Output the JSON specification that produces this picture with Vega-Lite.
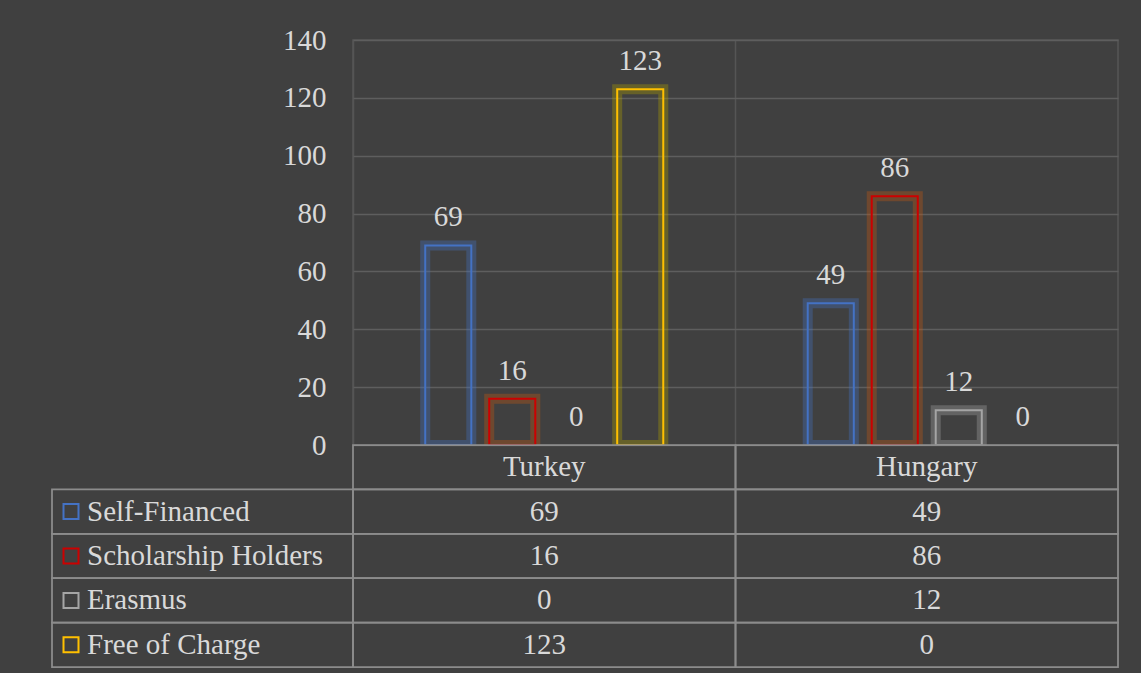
{
  "$schema": "https://vega.github.io/schema/vega-lite/v6.json",
  "background": "#404040",
  "padding": {"left": 51, "top": 25, "right": 22, "bottom": 5},
  "config": {"view": {"stroke": null}, "font": "Liberation Serif"},
  "datasets": {
    "counts": [
      {"country": "Turkey", "series": "Self-Financed", "value": 69},
      {"country": "Turkey", "series": "Scholarship Holders", "value": 16},
      {"country": "Turkey", "series": "Erasmus", "value": 0},
      {"country": "Turkey", "series": "Free of Charge", "value": 123},
      {"country": "Hungary", "series": "Self-Financed", "value": 49},
      {"country": "Hungary", "series": "Scholarship Holders", "value": 86},
      {"country": "Hungary", "series": "Erasmus", "value": 12},
      {"country": "Hungary", "series": "Free of Charge", "value": 0}
    ],
    "header": [
      {"country": "Turkey", "series": "_header"},
      {"country": "Hungary", "series": "_header"}
    ]
  },
  "columns": 2,
  "spacing": 0,
  "bounds": "flush",
  "concat": [
    {
      "width": 301,
      "height": 405,
      "data": {"values": [{"a": 1}]},
      "mark": {"type": "text", "text": ""},
      "encoding": {}
    },
    {
      "width": 765,
      "height": 405,
      "data": {"name": "counts"},
      "view": {"stroke": "#555555", "strokeWidth": 1.5},
      "encoding": {
        "x": {
          "field": "country", "type": "nominal", "sort": ["Turkey", "Hungary"],
          "scale": {"paddingInner": 0.0431, "paddingOuter": 0.02155},
          "axis": {"title": null, "labels": false, "ticks": false, "domain": false, "grid": true,
                   "gridColor": "#555555", "gridWidth": 1.5, "bandPosition": -0.02252}
        },
        "xOffset": {
          "field": "series", "type": "nominal",
          "sort": ["Self-Financed", "Scholarship Holders", "Erasmus", "Free of Charge"],
          "scale": {"paddingInner": 0.28, "paddingOuter": 1}
        },
        "y": {
          "field": "value", "type": "quantitative",
          "scale": {"domain": [0, 140]},
          "axis": {
            "title": null, "values": [0, 20, 40, 60, 80, 100, 120, 140],
            "labelFontSize": 29, "labelColor": "#d9d9d9", "labelPadding": 27,
            "labelFont": "Liberation Serif",
            "ticks": false, "domain": false, "grid": true,
            "gridColor": "#5e5e5e", "gridWidth": 1.5,
            "encode": {"grid": {"update": {"strokeOpacity": {"signal": "0.2 + 0.8 * datum.value / 140"}}}}
          }
        }
      },
      "layer": [
        {
          "transform": [{"filter": "datum.value > 0"}],
          "mark": {"type": "bar", "fillOpacity": 0, "strokeWidth": 10, "strokeOpacity": 0.35, "clip": true},
          "encoding": {
            "stroke": {
              "field": "series", "type": "nominal",
              "scale": {"domain": ["Self-Financed", "Scholarship Holders", "Erasmus", "Free of Charge"],
                        "range": ["#4472c4", "#c55a11", "#a5a5a5", "#b0a000"]},
              "legend": null
            }
          }
        },
        {
          "transform": [{"filter": "datum.value > 0"}],
          "mark": {"type": "bar", "fillOpacity": 0, "strokeWidth": 2, "clip": true},
          "encoding": {
            "stroke": {
              "field": "series", "type": "nominal",
              "scale": {"domain": ["Self-Financed", "Scholarship Holders", "Erasmus", "Free of Charge"],
                        "range": ["#4472c4", "#cc0000", "#a5a5a5", "#ffc000"]},
              "legend": null
            }
          }
        },
        {
          "mark": {"type": "text", "fontSize": 29, "color": "#d9d9d9", "baseline": "middle", "dy": -28},
          "encoding": {"text": {"field": "value", "type": "quantitative"}}
        }
      ],
      "resolve": {"scale": {"stroke": "independent"}}
    },
    {
      "width": 301,
      "height": 222,
      "data": {"name": "counts"},
      "transform": [{"filter": "datum.country === 'Turkey'"}],
      "encoding": {
        "y": {
          "field": "series", "type": "nominal",
          "scale": {"domain": ["_header", "Self-Financed", "Scholarship Holders", "Erasmus", "Free of Charge"],
                    "paddingInner": 0, "paddingOuter": 0},
          "axis": null
        }
      },
      "layer": [
        {"mark": {"type": "rect", "fillOpacity": 0, "stroke": "#8c8c8c", "strokeWidth": 1.75}},
        {
          "mark": {"type": "point", "shape": "square", "size": 225, "filled": false, "strokeWidth": 2,
                   "opacity": 1, "xOffset": -131.5},
          "encoding": {
            "color": {
              "field": "series", "type": "nominal",
              "scale": {"domain": ["Self-Financed", "Scholarship Holders", "Erasmus", "Free of Charge"],
                        "range": ["#4472c4", "#cc0000", "#a5a5a5", "#ffc000"]},
              "legend": null
            }
          }
        },
        {
          "mark": {"type": "text", "align": "left", "dx": -115.5, "fontSize": 29, "color": "#d9d9d9", "baseline": "middle"},
          "encoding": {"text": {"field": "series", "type": "nominal"}}
        }
      ]
    },
    {
      "width": 765,
      "height": 222,
      "encoding": {
        "x": {
          "field": "country", "type": "nominal", "sort": ["Turkey", "Hungary"],
          "scale": {"paddingInner": 0, "paddingOuter": 0}, "axis": null
        },
        "y": {
          "field": "series", "type": "nominal",
          "scale": {"domain": ["_header", "Self-Financed", "Scholarship Holders", "Erasmus", "Free of Charge"],
                    "paddingInner": 0, "paddingOuter": 0},
          "axis": null
        }
      },
      "layer": [
        {"data": {"name": "counts"}, "mark": {"type": "rect", "fillOpacity": 0, "stroke": "#8c8c8c", "strokeWidth": 1.75}},
        {"data": {"name": "header"}, "mark": {"type": "rect", "fillOpacity": 0, "stroke": "#8c8c8c", "strokeWidth": 1.75}},
        {
          "data": {"name": "counts"},
          "mark": {"type": "text", "fontSize": 29, "color": "#d9d9d9", "baseline": "middle"},
          "encoding": {"text": {"field": "value", "type": "quantitative"}}
        },
        {
          "data": {"name": "header"},
          "mark": {"type": "text", "fontSize": 29, "color": "#d9d9d9", "baseline": "middle"},
          "encoding": {"text": {"field": "country", "type": "nominal"}}
        }
      ]
    }
  ]
}
